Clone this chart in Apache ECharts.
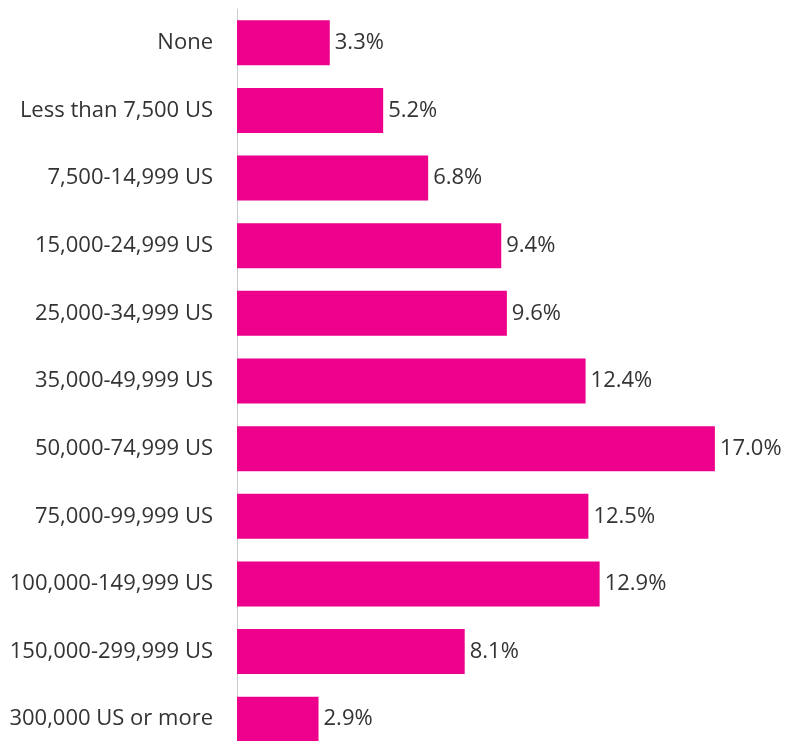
<!DOCTYPE html>
<html>
<head>
<meta charset="utf-8">
<script src="https://cdn.jsdelivr.net/npm/echarts@6/dist/echarts.min.js"></script>
<style>
  html, body { margin: 0; padding: 0; background: #fff; }
  #chart { width: 788px; height: 741px; }
</style>
</head>
<body>
<div id="chart"></div>
<script>
  // income groups, top to bottom
  var categories = ['None', 'Less than 7,500 US', '7,500-14,999 US', '15,000-24,999 US',
    '25,000-34,999 US', '35,000-49,999 US', '50,000-74,999 US', '75,000-99,999 US',
    '100,000-149,999 US', '150,000-299,999 US', '300,000 US or more'];
  var shares = [3.3, 5.2, 6.8, 9.4, 9.6, 12.4, 17.0, 12.5, 12.9, 8.1, 2.9];

  var chart = echarts.init(document.getElementById('chart'));
  chart.setOption({
    backgroundColor: '#fff',
    animation: false,
    grid: {
      left: 237,
      width: 506,
      top: 9,
      height: 744,
      containLabel: false,
      outerBoundsMode: 'none'
    },
    xAxis: {
      type: 'value',
      min: 0,
      max: 18,
      show: false,
      splitLine: { show: false }
    },
    yAxis: {
      type: 'category',
      inverse: true,
      data: categories,
      axisTick: { show: false },
      axisLine: { show: true, lineStyle: { color: '#cccccc', width: 1 } },
      axisLabel: {
        color: '#333',
        fontFamily: 'Open Sans',
        fontSize: 22,
        margin: 24
      }
    },
    series: [{
      type: 'bar',
      data: shares,
      barWidth: 45,
      itemStyle: { color: '#EC008C' },
      label: {
        show: true,
        position: 'right',
        distance: 5,
        color: '#333',
        fontFamily: 'Open Sans',
        fontSize: 22,
        formatter: function (p) { return p.value.toFixed(1) + '%'; }
      }
    }]
  });
</script>
</body>
</html>
